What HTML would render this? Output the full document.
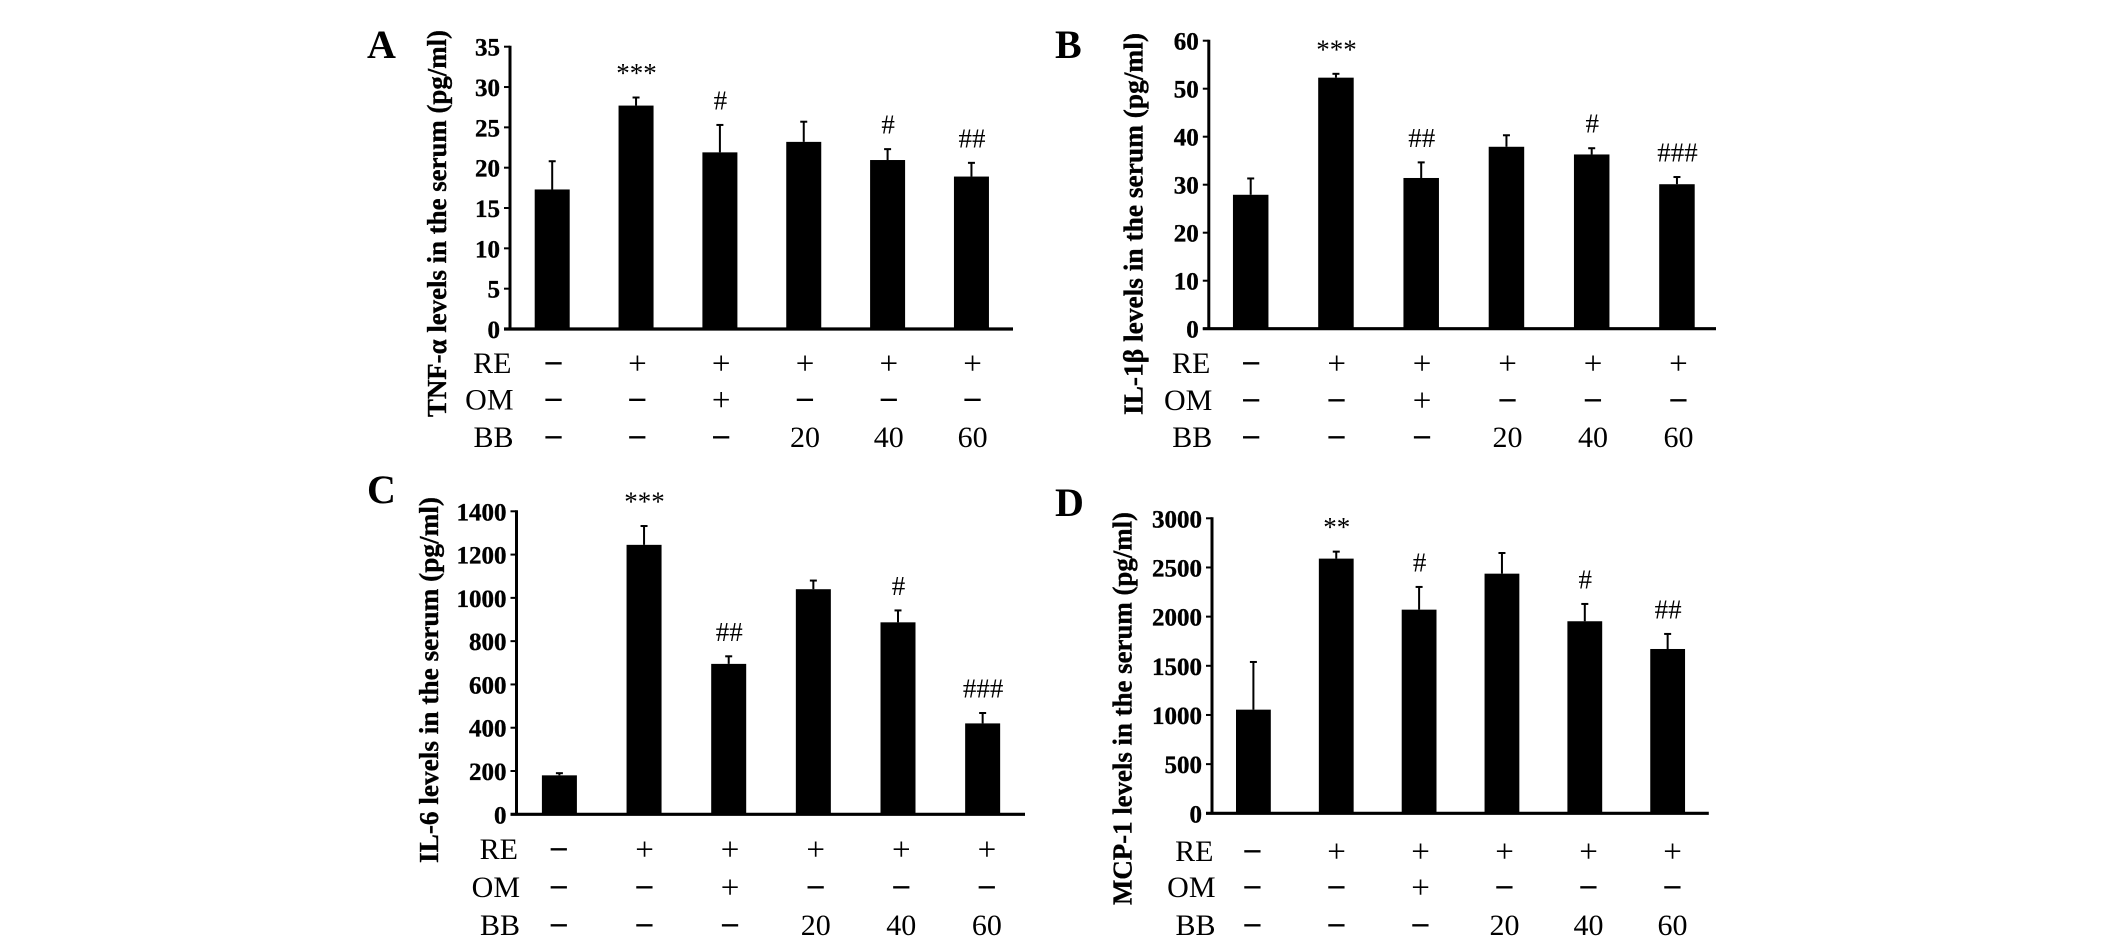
<!DOCTYPE html>
<html lang="en">
<head>
<meta charset="utf-8">
<title>Serum cytokine levels</title>
<style>
html,body{margin:0;padding:0;background:#fff;width:2126px;height:942px;overflow:hidden}
svg{display:block}
text{font-family:"Liberation Serif",serif;fill:#000}
.heavy{stroke:#000;stroke-width:0.35px}
</style>
</head>
<body>
<svg id="figure" xmlns="http://www.w3.org/2000/svg" width="2126" height="942" viewBox="0 0 2126 942"></svg>
<script>
// Shared treatment rows
const reRow = ['−','+','+','+','+','+'];
const omRow = ['−','−','+','−','−','−'];
const bbRow = ['−','−','−','20','40','60'];

// Panel A
const tnfTicks = [0,5,10,15,20,25,30,35];
const tnfMeans = [17.3,27.7,21.9,23.2,20.95,18.9];
const tnfUpper = [20.8,28.7,25.3,25.7,22.3,20.6];
const tnfMarks = ['','***','#','','#','##'];
// Panel B
const il1Ticks = [0,10,20,30,40,50,60];
const il1Means = [27.9,52.3,31.4,37.9,36.3,30.1];
const il1Upper = [31.3,53.1,34.65,40.3,37.6,31.6];
const il1Marks = ['','***','##','','#','###'];
// Panel C
const il6Ticks = [0,200,400,600,800,1000,1200,1400];
const il6Means = [180,1245,695,1040,887,420];
const il6Upper = [190,1332,730,1080,942,468];
const il6Marks = ['','***','##','','#','###'];
// Panel D
const mcpTicks = [0,500,1000,1500,2000,2500,3000];
const mcpMeans = [1054,2590,2071,2437,1953,1671];
const mcpUpper = [1539,2661,2302,2647,2129,1824];
const mcpMarks = ['','**','#','','#','##'];

const svg = document.getElementById('figure');
const NS = 'http://www.w3.org/2000/svg';

function line(parent, x1, y1, x2, y2, w) {
  const l = document.createElementNS(NS, 'line');
  l.setAttribute('x1', x1);
  l.setAttribute('y1', y1);
  l.setAttribute('x2', x2);
  l.setAttribute('y2', y2);
  l.setAttribute('stroke', '#000');
  l.setAttribute('stroke-width', w);
  parent.appendChild(l);
  return l;
}
function label(parent, str, x, y, size, weight, anchor) {
  const t = document.createElementNS(NS, 'text');
  t.setAttribute('x', x);
  t.setAttribute('y', y);
  t.setAttribute('font-size', size);
  t.setAttribute('font-weight', weight);
  t.setAttribute('text-anchor', anchor);
  t.textContent = str;
  parent.appendChild(t);
  return t;
}

function drawPanel(p) {
  const g = document.createElementNS(NS, 'g');
  
  
  svg.appendChild(g);

  const maxTick = p.ticks[p.ticks.length - 1];
  const yScale = v => p.y0 - (v / maxTick) * (p.y0 - p.yTop);
  const xScale = i => p.barX0 + i * p.barStep;

  const letter = label(g, p.letter, p.letterX, p.letterY, 40, 'bold', 'start');
  
  

  const tx = p.titleX, ty = (p.titleTop + p.titleBottom) / 2;
  const title = label(g, p.title, 0, 0, 27, 'bold', 'middle');
  title.setAttribute('class', 'heavy');
  title.setAttribute('transform', 'translate(' + tx + ',' + ty + ') rotate(-90)');
  title.setAttribute('textLength', p.titleBottom - p.titleTop);
  title.setAttribute('lengthAdjust', 'spacingAndGlyphs');
  
  

  p.means.forEach((v, i) => {
    const cx = xScale(i);
    const top = yScale(v);
    const up = yScale(p.upper[i]);
    const err = line(g, cx, top, cx, up, 2);
    
    
    const cap = line(g, cx - 3.5, up, cx + 3.5, up, 2);
    
    
    const r = document.createElementNS(NS, 'rect');
    r.setAttribute('x', cx - p.barW / 2);
    r.setAttribute('y', top);
    r.setAttribute('width', p.barW);
    r.setAttribute('height', p.y0 - top);
    r.setAttribute('fill', '#000');
    
    
    g.appendChild(r);
    if (p.marks[i]) {
      const m = label(g, p.marks[i], cx + 0.5, up - 15.5, 27, 'normal', 'middle');
      
      
    }
  });

  const yAxis = line(g, p.axisX, p.yTop - 1, p.axisX, p.y0, 3);
  
  
  const xAxis = line(g, p.axisX - 6, p.y0, p.xEnd, p.y0, 3.2);
  
  

  p.ticks.forEach(t => {
    const y = yScale(t);
    const tick = line(g, p.axisX - 6, y, p.axisX, y, 2);
    
    
    const tl = label(g, String(t), p.axisX - 10, y + 9, 25, 'bold', 'end');
    tl.setAttribute('class', 'heavy');
    
    
  });

  const rows = [['RE', reRow], ['OM', omRow], ['BB', bbRow]];
  rows.forEach((row, ri) => {
    const mid = p.rowMids[ri];
    const rowLabel = label(g, row[0], p.axisX + (ri === 0 ? 1.5 : 3.5), mid + 10, 30, 'normal', 'end');
    
    
    row[1].forEach((s, i) => {
      const x = p.rowX0 + i * p.rowStep;
      let c;
      if (s === '−') {
        c = label(g, s, x, mid + 12, 35, 'bold', 'middle');
      } else if (s === '+') {
        c = label(g, s, x, mid + 10.8, 33, 'normal', 'middle');
      } else {
        c = label(g, s, x, mid + 10, 30, 'normal', 'middle');
      }
      
      
    });
  });
}

drawPanel({letter:'A', letterX:367, letterY:58, title:'TNF-α levels in the serum (pg/ml)',
  titleX:446, titleTop:30, titleBottom:417,
  ticks:tnfTicks, means:tnfMeans, upper:tnfUpper, marks:tnfMarks,
  axisX:510, xEnd:1013, y0:329, yTop:46.7, barX0:552.2, barStep:83.85, barW:35,
  rowX0:553.6, rowStep:83.8, rowMids:[363,399.5,437]});
drawPanel({letter:'B', letterX:1055, letterY:58, title:'IL-1β levels in the serum (pg/ml)',
  titleX:1142.5, titleTop:33, titleBottom:415,
  ticks:il1Ticks, means:il1Means, upper:il1Upper, marks:il1Marks,
  axisX:1208.8, xEnd:1716, y0:328.7, yTop:40.7, barX0:1250.7, barStep:85.25, barW:35.5,
  rowX0:1251.2, rowStep:85.45, rowMids:[363,400,437]});
drawPanel({letter:'C', letterX:367, letterY:503, title:'IL-6 levels in the serum (pg/ml)',
  titleX:438, titleTop:497, titleBottom:863,
  ticks:il6Ticks, means:il6Means, upper:il6Upper, marks:il6Marks,
  axisX:516.5, xEnd:1025, y0:814.3, yTop:511.3, barX0:559.4, barStep:84.65, barW:35,
  rowX0:558.9, rowStep:85.6, rowMids:[849,887,925]});
drawPanel({letter:'D', letterX:1055, letterY:516, title:'MCP-1 levels in the serum (pg/ml)',
  titleX:1131.5, titleTop:512, titleBottom:905,
  ticks:mcpTicks, means:mcpMeans, upper:mcpUpper, marks:mcpMarks,
  axisX:1212, xEnd:1708.8, y0:813.3, yTop:518.3, barX0:1253.4, barStep:82.85, barW:34.8,
  rowX0:1252.5, rowStep:84, rowMids:[851,887,925]});
</script>
</body>
</html>
